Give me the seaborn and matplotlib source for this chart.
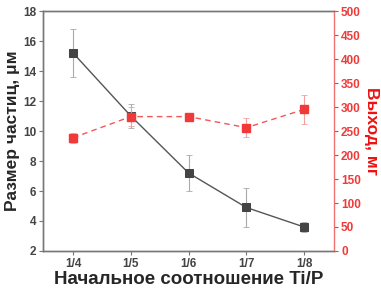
import matplotlib
matplotlib.use("Agg")
import matplotlib.pyplot as plt
import seaborn as sns
import pandas as pd
import numpy as np

# data
ratios = ["1/4", "1/5", "1/6", "1/7", "1/8"]
size_um = [15.2, 11.0, 7.2, 4.9, 3.6]
size_err = [1.6, 0.8, 1.2, 1.3, 0.35]
yield_mg = [236, 280, 280, 257, 295]
yield_err = [10, 20, 8, 20, 30]

sns.set_style("white")
plt.rcParams['font.family'] = ['Liberation Sans', 'DejaVu Sans']

df = pd.DataFrame({"x": np.arange(len(ratios)), "size": size_um, "yield": yield_mg})

fig = plt.figure(figsize=(3.81, 2.90), dpi=100)
ax = fig.add_axes([0.113, 0.1345, 0.764, 0.8275])
ax2 = ax.twinx()

red = "#f03a3a"
grey = "#555555"

# size (left axis)
ax.errorbar(df["x"], df["size"], yerr=size_err, fmt="none", ecolor="#aaaaaa",
            elinewidth=0.8, capsize=2.5, capthick=0.6, zorder=1)
sns.lineplot(data=df, x="x", y="size", ax=ax, color=grey, lw=1.0,
             marker="s", markersize=6, markerfacecolor="#444444",
             markeredgecolor="#444444", zorder=2)

# yield (right axis)
ax2.errorbar(df["x"], df["yield"], yerr=yield_err, fmt="none", ecolor="#f4a0a0",
             elinewidth=0.8, capsize=2.5, capthick=0.6, zorder=1)
sns.lineplot(data=df, x="x", y="yield", ax=ax2, color=red, lw=1.0,
             linestyle=(0, (4, 3)), alpha=0.85, zorder=2)
ax2.plot(df["x"], df["yield"], ls="none", marker="s", markersize=6,
         color=red, zorder=3)

ax.set_xlim(-0.52, 4.52)
ax.set_ylim(2, 18)
ax.set_yticks(range(2, 19, 2))
ax.set_xticks(df["x"])
ax.set_xticklabels(ratios)
ax2.set_ylim(0, 500)
ax2.set_yticks(range(0, 501, 50))

for lab in ax.get_xticklabels() + ax.get_yticklabels():
    lab.set_fontweight("bold")
    lab.set_fontsize(8.5)
    lab.set_color("#444444")
for lab in ax2.get_yticklabels():
    lab.set_fontweight("bold")
    lab.set_fontsize(8.5)
    lab.set_color(red)

ax.tick_params(axis="both", direction="out", length=3, width=0.8,
               color="#777777", pad=2, left=True, bottom=True)
ax2.tick_params(axis="y", direction="out", length=3, width=0.8,
                color=red, pad=2, right=True)

ax.set_xlabel("Начальное соотношение Ti/P", fontsize=13.5,
              fontweight="bold", labelpad=1)
ax.set_ylabel("Размер частиц, μм", fontsize=12.5, fontweight="bold", labelpad=2)
ax2.set_ylabel("Выход, мг", fontsize=12.5, fontweight="bold", color="#ee1111",
               rotation=270, labelpad=13)

for s in ["left", "bottom", "top"]:
    ax.spines[s].set_color("#777777")
    ax.spines[s].set_linewidth(1.0)
    ax2.spines[s].set_color("#777777")
    ax2.spines[s].set_linewidth(1.0)
ax2.spines["right"].set_color("#f07070")
ax2.spines["right"].set_linewidth(1.0)
ax.spines["right"].set_visible(False)

fig.savefig("out.png", dpi=100)
